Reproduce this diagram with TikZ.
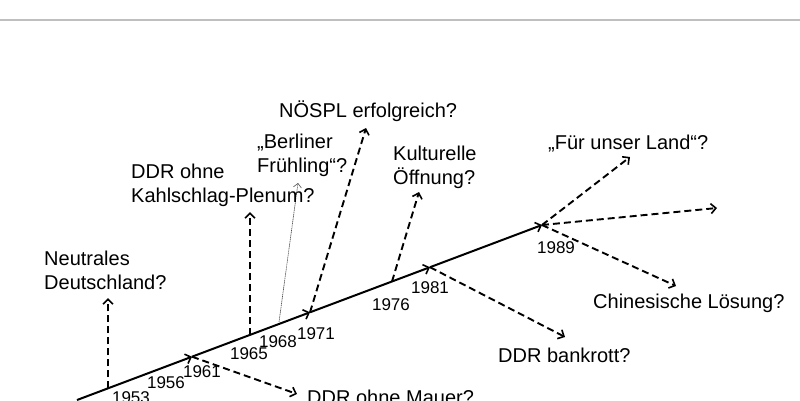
\documentclass[tikz,border=0pt]{standalone}
\usepackage{fontspec}
\setmainfont{Liberation Sans}
\usetikzlibrary{arrows.meta}
\begin{document}
\begin{tikzpicture}[x=1pt,y=-1pt,
  tip/.style={-{Straight Barb[length=5pt,width=10pt,line width=1.6pt]}},
  mainline/.style={line width=2pt,tip},
  branch/.style={line width=1.9pt,dash pattern=on 7pt off 4pt,tip},
  thinbranch/.style={line width=0.6pt,gray!60!black,dash pattern=on 1.2pt off 0.6pt,-{Straight Barb[length=4pt,width=8pt,line width=0.6pt]}},
  lbl/.style={inner sep=0pt,anchor=west,align=left,font=\fontsize{20}{24}\selectfont},
  yr/.style={inner sep=0pt,font=\fontsize{17}{20}\selectfont}]
\useasboundingbox (0,0) rectangle (800,400);
\draw[gray!50,line width=1.5pt] (0,20) -- (800,20);
% main timeline points
\coordinate (s) at (77,400);
\coordinate (p53) at (108,388.3);
\coordinate (p61) at (192,356.7);
\coordinate (p65) at (250,334.9);
\coordinate (p68) at (279,322);
\coordinate (p71) at (310,312.3);
\coordinate (p76) at (392,281.5);
\coordinate (p81) at (430,267.2);
\coordinate (p89) at (542,225);
% branch ends
\coordinate (e53) at (108,298);
\coordinate (e61) at (297,394);
\coordinate (e65) at (250,212);
\coordinate (e68) at (298,183);
\coordinate (e71) at (366,128);
\coordinate (e76) at (419,192);
\coordinate (e81) at (565,337);
\coordinate (e89a) at (630,157);
\coordinate (e89b) at (717,208);
\coordinate (e89c) at (676,286);
% main line
\draw[mainline] (s) -- (p61);
\draw[mainline] (p61) -- (p71);
\draw[mainline] (p71) -- (p81);
\draw[mainline] (p81) -- (p89);
% branches
\draw[branch] (p53) -- (e53);
\draw[branch] (p61) -- (e61);
\draw[branch] (p65) -- (e65);
\draw[thinbranch] (p68) -- (e68);
\draw[branch] (p71) -- (e71);
\draw[branch] (p76) -- (e76);
\draw[branch] (p81) -- (e81);
\draw[branch] (p89) -- (e89a);
\draw[branch] (p89) -- (e89b);
\draw[branch] (p89) -- (e89c);
% labels
\node[lbl] (lneutral) at (44,270) {Neutrales\\Deutschland?};
\node[lbl] (lkahl) at (131,185) {DDR ohne\\Kahlschlag-Plenum?};
\node[lbl] (lberlin) at (257,155) {„Berliner\\Frühling“?};
\node[lbl] (lnoespl) at (279,111) {NÖSPL erfolgreich?};
\node[lbl] (lkultur) at (393,167) {Kulturelle\\Öffnung?};
\node[lbl] (lland) at (548,144) {„Für unser Land“?};
\node[lbl] (lchina) at (593,303) {Chinesische Lösung?};
\node[lbl] (lbank) at (498,355) {DDR bankrott?};
\node[lbl] (lmauer) at (307,397) {DDR ohne Mauer?};
% years
\node[yr] (y53) at (131,398) {1953};
\node[yr] (y56) at (166,383) {1956};
\node[yr] (y61) at (202,372) {1961};
\node[yr] (y65) at (249,354) {1965};
\node[yr] (y68) at (278,342) {1968};
\node[yr] (y71) at (316,334) {1971};
\node[yr] (y76) at (391,305) {1976};
\node[yr] (y81) at (430,288) {1981};
\node[yr] (y89) at (556,248) {1989};
\end{tikzpicture}
\end{document}
